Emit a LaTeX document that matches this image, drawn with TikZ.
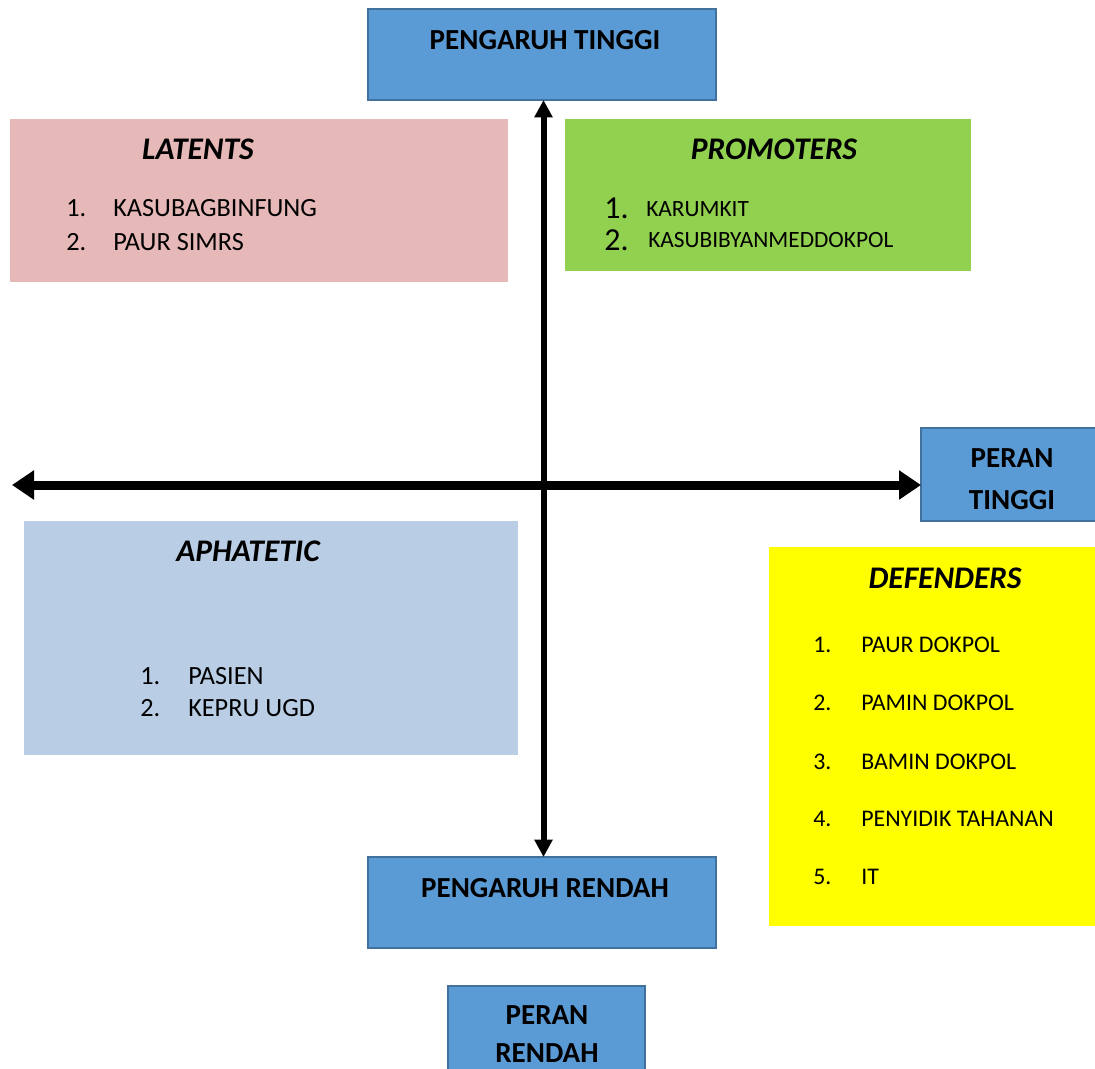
\documentclass[tikz,border=0pt]{standalone}
\usepackage{fontspec}
\setmainfont{Carlito}
\usetikzlibrary{arrows.meta}
\definecolor{bluebox}{HTML}{5B9BD5}
\definecolor{blueedge}{HTML}{41719C}
\definecolor{pinkbox}{HTML}{E6B9B8}
\definecolor{greenbox}{HTML}{92D050}
\definecolor{lightbluebox}{HTML}{B9CDE5}
\definecolor{yellowbox}{HTML}{FFFF00}
\tikzset{
  px/.style={x={(0.75pt,0)}, y={(0,-0.75pt)}},
  bluerect/.style={draw=blueedge, line width=1.5pt, fill=bluebox},
  quad/.style={draw=none},
  bluetext/.style={font=\fontsize{21.8}{26}\selectfont\bfseries, inner sep=0pt},
  titletext/.style={font=\fontsize{23.6}{28}\selectfont\bfseries\itshape, inner sep=0pt},
  itemtext/.style={font=\fontsize{19.7}{23}\selectfont, inner sep=0pt, anchor=west},
  defitem/.style={font=\fontsize{17.9}{21}\selectfont, inner sep=0pt, anchor=west},
  proitem/.style={font=\fontsize{17.5}{21}\selectfont, inner sep=0pt, anchor=west},
  bignum/.style={font=\fontsize{24}{28}\selectfont, inner sep=0pt, anchor=west},
  haxisboth/.style={line width=6.75pt, {Triangle[length=16.5pt,width=21pt]}-{Triangle[length=16.5pt,width=21pt]}},
  vaxis/.style={line width=4.5pt, {Triangle[length=13pt,width=13pt]}-{Triangle[length=13pt,width=13pt]}},
}
\begin{document}
\begin{tikzpicture}[px]
\useasboundingbox (0,0) rectangle (1095,1068);
\clip (0,0) rectangle (1095,1068);
\fill[white] (0,0) rectangle (1095,1068);

% quadrant boxes
\path[fill=pinkbox] (10,119) rectangle (508,282);
\path[fill=greenbox] (565,119) rectangle (971,271);
\path[fill=lightbluebox] (24,521) rectangle (518,755);
\path[fill=yellowbox] (769,547) rectangle (1100,926);

% blue boxes
\draw[bluerect] (368,9) rectangle (716,100);
\node[quad] (pti) at (542,54.5) {};
\coordinate (ptiS) at (543.5,100);
\draw[bluerect] (368,857) rectangle (716,948);
\coordinate (prN) at (543.5,857);
\draw[bluerect] (921,428) rectangle (1110,521);
\coordinate (ptgW) at (921,485);
\draw[bluerect] (448,986) rectangle (645,1090);

% blue box texts
\node[bluetext] (t1) at (545,40) {PENGARUH TINGGI};
\node[bluetext] (t2) at (545,888) {PENGARUH RENDAH};
\node[bluetext] (t3) at (1012,458) {PERAN};
\node[bluetext] (t4) at (1012,500) {TINGGI};
\node[bluetext] (t5) at (547,1015) {PERAN};
\node[bluetext] (t6) at (547,1053) {RENDAH};

% axes
\coordinate (hl) at (12,485);
\draw[haxisboth] (hl) -- (ptgW);
\draw[vaxis] (ptiS) -- (prN);

% LATENTS
\node[titletext] (lat) at (198,149) {LATENTS};
\node[itemtext] (l1n) at (66,208) {1.};
\node[itemtext] (l1) at (113,208) {KASUBAGBINFUNG};
\node[itemtext] (l2n) at (66,242) {2.};
\node[itemtext] (l2) at (113,242) {PAUR SIMRS};

% PROMOTERS
\node[titletext] (pro) at (774,149) {PROMOTERS};
\node[bignum] (p1n) at (604,208) {1.};
\node[proitem] (p1) at (646,209) {KARUMKIT};
\node[bignum] (p2n) at (604,240) {2.};
\node[proitem] (p2) at (648,240) {KASUBIBYANMEDDOKPOL};

% APHATETIC
\node[titletext] (aph) at (248,551) {APHATETIC};
\node[itemtext] (a1n) at (140,676) {1.};
\node[itemtext] (a1) at (188,676) {PASIEN};
\node[itemtext] (a2n) at (140,708) {2.};
\node[itemtext] (a2) at (188,708) {KEPRU UGD};

% DEFENDERS
\node[titletext] (def) at (945,578) {DEFENDERS};
\node[defitem] (d1n) at (813,645) {1.};
\node[defitem] (d1) at (861,645) {PAUR DOKPOL};
\node[defitem] (d2n) at (813,703) {2.};
\node[defitem] (d2) at (861,703) {PAMIN DOKPOL};
\node[defitem] (d3n) at (813,762) {3.};
\node[defitem] (d3) at (861,762) {BAMIN DOKPOL};
\node[defitem] (d4n) at (813,819) {4.};
\node[defitem] (d4) at (861,819) {PENYIDIK TAHANAN};
\node[defitem] (d5n) at (813,877) {5.};
\node[defitem] (d5) at (861,877) {IT};
\end{tikzpicture}
\end{document}
